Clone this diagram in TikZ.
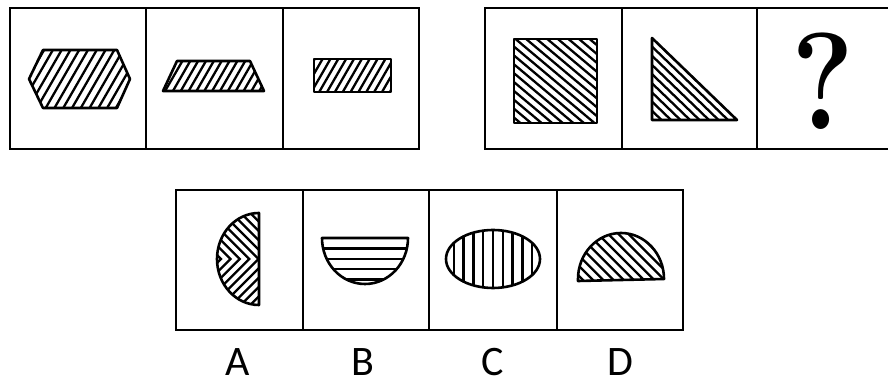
\documentclass[tikz,border=0pt]{standalone}
\usepackage{fontspec}
\usepackage{graphicx}
\usepackage{tikz}
\newfontfamily\labelfont{Carlito}

% hatched figure: #1 outline path, #2 angle, #3 gap, #4 centre
\newcommand\hatchfig[4]{%
  \begin{scope}
    \clip #1;
    \foreach \k in {-13,...,13}
      \draw[hatch,shift={#4},rotate=#2] (-95,\k*#3) -- (95,\k*#3);
  \end{scope}
  \draw[outline] #1;
}

\begin{document}
\begin{tikzpicture}[
  x=1pt,y=1pt,
  cell/.style={draw=black,line width=2.7pt},
  outline/.style={draw=black,line width=2.6pt,line join=round},
  hatch/.style={draw=black,line width=2.3pt},
  letter/.style={inner sep=0pt,font=\labelfont\fontsize{42}{42}\selectfont}
]
\useasboundingbox (0,0) rectangle (888,382);

% frames
\foreach \a/\b in {10/146,146/283,283/419,485/622,622/757,757/893}
  \draw[cell] (\a,233) rectangle (\b,374);
\foreach \a/\b in {176/303,303/429,429/557,557/683}
  \draw[cell] (\a,52) rectangle (\b,192);

% first row
\hatchfig{(29,303) -- (43,332) -- (117,332) -- (130,303) -- (117,274) -- (43,274) -- cycle}{60}{7.6}{(80,303)}
\hatchfig{(163,291) -- (264,291) -- (250,321) -- (177,321) -- cycle}{60}{6.8}{(213,306)}
\hatchfig{(314,290) rectangle (391,323)}{60}{6.8}{(352,306)}

% second row
\hatchfig{(514,259) rectangle (597,343)}{-40}{6.8}{(555,301)}
\hatchfig{(652,344) -- (652,262) -- (737,262) -- cycle}{-44}{6.6}{(680,290)}
\node[inner sep=0pt,font=\bfseries\fontsize{138}{138}\selectfont] (ques) at (823,300.5) {\scalebox{0.86}[1]{?}};

% options
\begin{scope}
  \clip (259,77) -- (259,169) arc[start angle=90,end angle=270,x radius=42,y radius=46] -- cycle;
  \foreach \k in {-6,...,12}
    \draw[hatch] (268-\k*9.4-60,183) -- (268-\k*9.4,123) -- (268-\k*9.4-60,63);
\end{scope}
\draw[outline] (259,77) -- (259,169) arc[start angle=90,end angle=270,x radius=42,y radius=46] -- cycle;

\begin{scope}
  \clip (322,144) -- (408,144) arc[start angle=0,end angle=-180,x radius=43,y radius=46] -- cycle;
  \foreach \k in {1,...,4}
    \draw[hatch] (315,144-\k*10.4) -- (415,144-\k*10.4);
\end{scope}
\draw[outline] (322,144) -- (408,144) arc[start angle=0,end angle=-180,x radius=43,y radius=46] -- cycle;

\begin{scope}
  \clip (493,123) ellipse[x radius=47,y radius=29];
  \foreach \k in {-4,...,4}
    \draw[hatch] (493+\k*9.8,90) -- (493+\k*9.8,156);
\end{scope}
\draw[outline] (493,123) ellipse[x radius=47,y radius=29];

\hatchfig{(578,101) -- (664,103) arc[start angle=0,end angle=180,x radius=43,y radius=46] -- cycle}{-45}{7.2}{(621,125)}

% labels
\node[letter] (optA) at (238,20) {A};
\node[letter] (optB) at (363,20) {B};
\node[letter] (optC) at (493,20) {C};
\node[letter] (optD) at (620,20) {D};
\end{tikzpicture}
\end{document}
